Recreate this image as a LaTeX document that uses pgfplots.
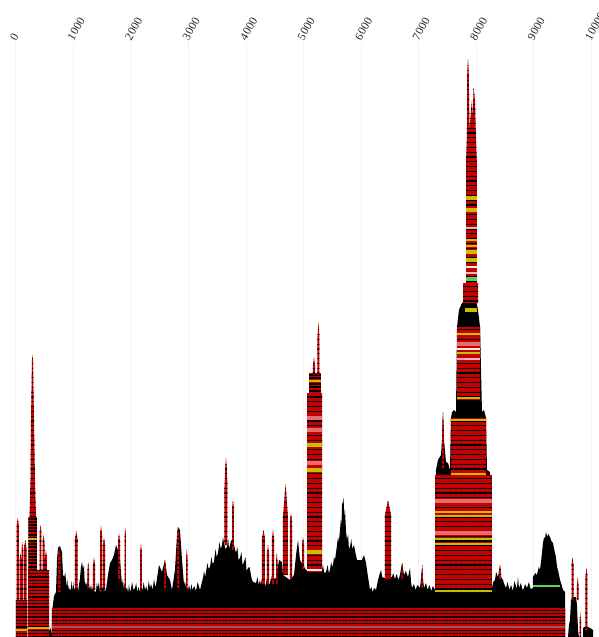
\documentclass[border=0pt]{standalone}
\usepackage{fontspec}
\setmainfont{Liberation Serif}
\usepackage{pgfplots}
\pgfplotsset{compat=1.18}
\usetikzlibrary{patterns.meta}
\definecolor{bred}{RGB}{196,0,0}
\definecolor{byel}{RGB}{200,190,0}
\definecolor{bpink}{RGB}{226,112,112}
\definecolor{blpink}{RGB}{242,184,184}
\definecolor{bgreen}{RGB}{92,208,92}
\definecolor{bcream}{RGB}{245,240,215}
\definecolor{bgray}{RGB}{150,90,90}
\definecolor{gridc}{RGB}{242,242,242}
\tikzset{
 fs/.style={postaction={pattern={Lines[angle=0,distance=2.5pt,line width=0.8pt]},pattern color=black}},
 ms/.style={postaction={pattern={Lines[angle=0,distance=3.6pt,line width=1pt]},pattern color=black}},
 ds/.style={postaction={pattern={Lines[angle=0,distance=2.4pt,line width=1.4pt]},pattern color=black}},
}
\begin{document}
\begin{tikzpicture}
\begin{axis}[
 scale only axis, width=437.25pt, height=446.25pt,
 xmin=0, xmax=10139, ymin=0, ymax=595,
 axis line style={draw=none},
 tick style={draw=none},
 ytick=\empty,
 xtick={0,1000,...,10000},
 scaled x ticks=false,
 xticklabel pos=right,
 xmajorgrids, major grid style={gridc, line width=0.75pt},
 xticklabel style={xshift=-2.5pt, yshift=2pt, rotate=60, anchor=west, inner sep=0pt, font=\fontsize{8.7}{10}\selectfont, text=black!85},
 /pgf/number format/1000 sep={},
 /pgf/number format/assume math mode=true,
 unbounded coords=jump,
]
% black envelope
\addplot[fill=black, draw=none] coordinates {
(626,0)(626,25)(661,41)(696,45)(713,77)(730,89)(765,91)(800,85)(817,62)(840,60)(855,65)(870,57)
(885,50)(895,58)(904,47)(920,52)(930,45)(939,49)(955,46)(965,56)(974,52)(990,47)(1000,55)(1009,47)(1030,50)(1045,46)(1060,53)(1078,45)(1095,52)(1113,59)(1130,70)(1148,75)(1165,68)(1183,72)(1190,60)(1200,52)(1220,55)(1235,50)(1252,61)(1270,52)(1287,47)(1305,53)(1320,46)(1340,51)(1360,46)(1391,45)(1405,54)(1426,49)(1440,55)(1461,45)
(1500,50)(1530,46)(1565,47)(1600,62)(1635,74)(1670,77)(1704,82)(1739,92)(1774,87)(1809,77)(1843,52)
(1860,58)(1875,48)(1895,55)(1913,47)(1930,50)(1950,44)(1965,53)(1983,45)(2000,48)(2020,55)(2040,47)(2070,49)(2090,54)(2110,45)(2130,50)(2157,45)(2180,52)(2200,46)(2220,55)(2243,47)(2265,51)(2285,45)(2310,56)(2330,49)(2350,53)(2375,47)(2400,58)(2420,50)(2435,52)
(2487,72)(2539,65)(2591,77)(2626,62)(2678,57)(2713,47)(2765,67)(2800,102)(2817,110)(2852,107)(2887,77)(2922,52)
(2940,56)(2960,47)(2991,47)(3010,52)(3030,46)(3050,53)(3070,47)(3100,51)(3130,46)(3160,55)(3200,47)
(3252,59)(3270,66)(3290,60)(3304,65)(3330,74)(3350,68)(3374,70)(3400,80)(3420,73)(3443,75)(3470,88)(3490,80)(3513,84)(3540,95)(3560,88)(3583,92)(3600,100)(3617,94)(3640,88)(3670,90)(3690,98)(3705,88)(3722,92)(3745,97)(3774,94)(3800,90)(3826,84)(3850,90)(3870,77)(3896,79)(3920,85)(3940,72)(3965,75)(3990,80)(4010,66)(4035,69)(4060,70)(4087,62)(4100,58)(4122,55)
(4174,54)(4200,60)(4220,52)(4243,57)(4260,52)(4275,58)(4296,52)(4320,57)(4340,50)(4360,58)(4390,52)(4417,54)(4440,61)(4460,53)(4490,58)(4522,59)
(4574,77)(4626,75)(4643,62)(4765,57)(4835,62)(4870,82)(4904,97)(4939,77)(4991,72)(5043,67)
(5322,67)(5340,72)(5360,64)(5391,65)(5420,72)(5440,64)(5461,67)(5480,75)(5500,70)(5513,72)(5530,80)(5548,77)
(5583,92)(5600,100)(5615,95)(5635,107)(5650,118)(5660,112)(5670,132)(5696,139)(5710,120)(5722,127)(5740,105)(5757,97)(5775,103)(5790,88)(5809,90)(5830,98)(5850,88)(5878,92)(5900,85)(5930,77)
(6017,77)(6052,82)(6087,74)(6122,60)
(6157,47)(6180,50)(6200,45)(6230,49)(6261,47)(6296,57)(6320,62)(6348,67)(6370,60)(6400,59)(6539,60)(6560,64)(6590,58)(6620,63)(6650,57)(6678,62)(6713,74)(6748,62)(6780,66)(6817,60)(6852,69)(6870,55)(6887,49)(6920,53)(6950,47)(6980,52)(7026,49)(7061,67)(7096,49)(7130,54)(7160,47)(7190,52)(7220,46)(7250,51)(7287,47)
(7304,167)(7339,177)(7391,182)(7409,197)(7426,225)(7443,197)(7478,175)(7513,174)(7548,167)(7565,219)(7583,225)(7617,227)(7652,225)(7670,310)(7704,327)(7756,334)(7826,337)(8000,337)(8035,327)(8070,310)(8104,225)(8139,227)(8174,219)(8191,167)(8243,165)
(8278,49)(8300,55)(8330,57)(8350,65)(8383,60)(8417,72)(8435,60)(8470,57)(8490,53)(8522,49)(8550,55)(8580,47)(8610,52)(8640,46)(8670,56)(8700,50)(8713,49)(8730,60)(8748,49)(8780,54)(8810,47)(8835,49)(8852,53)(8887,49)(8920,55)(8950,48)(8991,49)
(8991,60)(9030,64)(9060,62)(9090,70)(9113,67)(9140,80)(9165,94)(9185,100)(9200,98)(9217,105)(9240,100)(9260,103)(9287,100)(9310,96)(9339,94)(9370,85)(9390,80)(9409,70)(9430,66)(9461,57)(9490,52)(9513,47)(9548,45)(9548,0)
(nan,nan)
(9600,0)(9617,12)(9635,17)(9652,37)(9687,40)(9739,40)(9756,32)(9774,7)(9791,0)
(nan,nan)
(9861,0)(9861,9)(9913,11)(9983,9)(10035,7)(10035,0)
(nan,nan)
(574,0)(574,6)(600,9)(615,5)(626,0)
};
% base band and left blocks
\addplot[fill=bred, draw=none, fs] coordinates {
(626,0)(626,29)(9548,29)(9548,0)
(nan,nan)
(0,0)(0,37)(200,37)(200,0)
(nan,nan)
(209,0)(209,67)(574,67)(574,0)
};
% dense blocks
\addplot[fill=bred, draw=none, ds] coordinates {
(217,67)(217,120)(365,120)(365,67)
(nan,nan)
(5096,244)(5096,264)(5304,264)(5304,244)
};
% towers, blocks and spikes
\addplot[fill=bred, draw=none, ms] coordinates {
(7287,45)(7287,162)(8278,162)(8278,45)
(nan,nan)
(7565,162)(7565,219)(8174,219)(8174,162)
(nan,nan)
(7670,237)(7670,310)(8070,310)(8070,237)
(nan,nan)
(7774,334)(7774,354)(8035,354)(8035,334)
(nan,nan)
(7826,354)(7826,474)(7843,504)(7848,567)(7861,578)(7873,567)(7887,507)(7913,527)(7930,537)(7944,517)(7957,550)(7983,537)(8000,497)(8017,472)(8017,354)
(nan,nan)
(7409,167)(7409,205)(7426,225)(7443,205)(7443,167)
(nan,nan)
(5061,65)(5061,244)(5322,244)(5322,65)
(nan,nan)
(5165,262)(5165,272)(5183,280)(5200,272)(5200,262)
(nan,nan)
(5243,262)(5243,300)(5261,315)(5278,300)(5278,262)
(nan,nan)
(9,37)(9,111)(30,119)(52,111)(52,37)
(nan,nan)
(61,37)(61,76)(78,84)(96,76)(96,37)
(nan,nan)
(96,37)(96,87)(109,95)(122,87)(122,37)
(nan,nan)
(139,37)(139,89)(161,97)(183,89)(183,37)
(nan,nan)
(235,120)(252,157)(261,217)(278,277)(287,282)(296,277)(313,217)(330,157)(348,120)
(nan,nan)
(409,67)(409,104)(426,112)(443,104)(443,67)
(nan,nan)
(461,67)(461,94)(478,102)(496,94)(496,67)
(nan,nan)
(504,67)(504,79)(521,87)(539,79)(539,67)
(nan,nan)
(730,45)(730,82)(752,90)(774,82)(774,45)
(nan,nan)
(1026,47)(1026,98)(1048,106)(1070,98)(1070,47)
(nan,nan)
(1243,47)(1243,67)(1256,75)(1270,67)(1270,47)
(nan,nan)
(1339,47)(1339,72)(1357,80)(1374,72)(1374,47)
(nan,nan)
(1461,47)(1461,103)(1478,111)(1496,103)(1496,47)
(nan,nan)
(1513,47)(1513,92)(1530,100)(1548,92)(1548,47)
(nan,nan)
(1774,57)(1774,96)(1791,104)(1809,96)(1809,57)
(nan,nan)
(1887,47)(1887,101)(1900,109)(1913,101)(1913,47)
(nan,nan)
(2157,47)(2157,85)(2174,93)(2191,85)(2191,47)
(nan,nan)
(2574,47)(2574,69)(2591,77)(2609,69)(2609,47)
(nan,nan)
(2800,47)(2800,102)(2817,110)(2843,102)(2843,47)
(nan,nan)
(2957,47)(2957,79)(2970,87)(2983,79)(2983,47)
(nan,nan)
(3626,92)(3626,150)(3640,171)(3652,179)(3665,171)(3678,150)(3678,92)
(nan,nan)
(3757,87)(3757,129)(3774,137)(3791,129)(3791,87)
(nan,nan)
(4278,52)(4278,99)(4304,107)(4330,99)(4330,52)
(nan,nan)
(4365,52)(4365,84)(4383,92)(4400,84)(4400,52)
(nan,nan)
(4452,52)(4452,99)(4470,107)(4487,99)(4487,52)
(nan,nan)
(4522,52)(4522,76)(4535,84)(4548,76)(4548,52)
(nan,nan)
(4643,62)(4643,120)(4670,140)(4687,153)(4705,140)(4730,120)(4730,62)
(nan,nan)
(4765,57)(4765,116)(4783,124)(4800,116)(4800,57)
(nan,nan)
(4974,67)(4974,92)(4991,100)(5009,92)(5009,67)
(nan,nan)
(6417,57)(6417,122)(6452,132)(6470,137)(6487,132)(6522,122)(6522,57)
(nan,nan)
(6704,57)(6704,66)(6717,74)(6730,66)(6730,57)
(nan,nan)
(7052,49)(7052,64)(7065,72)(7078,64)(7078,49)
(nan,nan)
(8400,57)(8400,64)(8417,72)(8435,64)(8435,57)
(nan,nan)
(9661,37)(9661,72)(9678,80)(9696,72)(9696,37)
(nan,nan)
(9756,37)(9756,52)(9770,60)(9783,52)(9783,37)
(nan,nan)
(9800,0)(9800,16)(9813,24)(9826,16)(9826,0)
(nan,nan)
(9904,7)(9904,61)(9922,69)(9939,61)(9939,7)
};
% coloured stripes
\addplot[byel, line width=3pt] coordinates {
(7826,439)(8017,439) (nan,nan) (7826,427)(8017,427) (nan,nan)
(7826,385)(8017,385) (nan,nan) (7826,377)(8017,377) (nan,nan)
(7809,327)(8017,327) (nan,nan)
(5061,192)(5322,192) (nan,nan) (5061,167)(5322,167) (nan,nan) (5061,85)(5322,85)
};
\addplot[byel, line width=2pt] coordinates {
(7826,397)(8017,397) (nan,nan) (7826,391)(8017,391) (nan,nan)
(7670,303)(8070,303) (nan,nan) (7670,284)(8070,284) (nan,nan) (7670,239)(8070,239) (nan,nan)
(7565,217)(8174,217) (nan,nan) (7565,163)(8174,163) (nan,nan)
(7287,125)(8278,125) (nan,nan) (7287,121)(8278,121) (nan,nan) (7287,98)(8278,98) (nan,nan)
(7287,93)(8278,93) (nan,nan) (7287,46)(8278,46) (nan,nan)
(5096,256)(5304,256) (nan,nan) (0,7)(200,7) (nan,nan) (209,9)(574,9) (nan,nan) (217,98)(365,98)
};
\addplot[bpink, line width=2.5pt] coordinates {
(7287,136)(8278,136) (nan,nan) (7287,104)(8278,104) (nan,nan) (7670,293)(8070,293) (nan,nan)
(5061,219)(5322,219) (nan,nan) (5061,207)(5322,207) (nan,nan) (5061,174)(5322,174)
};
\addplot[blpink, line width=2pt] coordinates {
(7826,409)(8017,409) (nan,nan) (7826,364)(8017,364) (nan,nan) (7670,278)(8070,278)
};
\addplot[bcream, line width=1.5pt] coordinates {
(7826,370)(8017,370) (nan,nan) (7670,288)(8070,288) (nan,nan) (5061,67)(5322,67)
};
\addplot[bgreen, line width=3pt] coordinates {(7826,358)(8017,358)};
\addplot[bgreen, line width=1pt] coordinates {(8991,51)(9461,51)};
\addplot[bgray, line width=1pt] coordinates {(626,10)(9548,10)};
\end{axis}
\pgfresetboundingbox
\path[use as bounding box] ([xshift=-12pt]current axis.south west) rectangle ([yshift=31.5pt]current axis.north east);
\end{tikzpicture}
\end{document}
